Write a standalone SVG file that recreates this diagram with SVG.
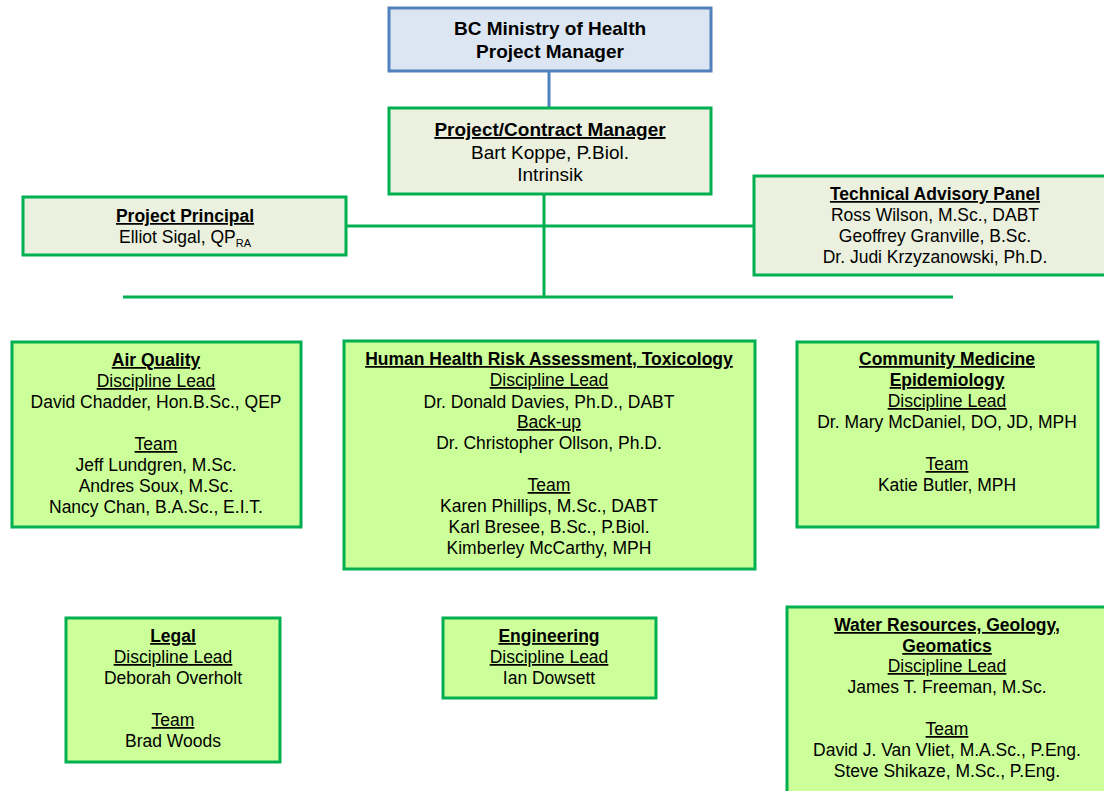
<svg xmlns="http://www.w3.org/2000/svg" width="1104" height="791" viewBox="0 0 1104 791">
<style>
text{font-family:"Liberation Sans",Arial,sans-serif;fill:#000;text-anchor:middle}
.t19{font-size:19px}
.t{font-size:17.5px}
.b{font-weight:bold}
.u{text-decoration:underline}
.blue{fill:#DCE6F2;stroke:#4F81BD;stroke-width:3}
.beige{fill:#EBF1DE;stroke:#00B050;stroke-width:3}
.lg{fill:#CCFF99;stroke:#00B050;stroke-width:3}
.cg{stroke:#00B050;stroke-width:3;fill:none}
.cb{stroke:#4F81BD;stroke-width:3;fill:none}
</style>
<rect width="1104" height="791" fill="#fff"/>
<g id="connectors">
<line class="cb" x1="549" y1="72" x2="549" y2="108"/>
<line class="cg" x1="544" y1="194" x2="544" y2="297"/>
<line class="cg" x1="346" y1="226" x2="753" y2="226"/>
<line class="cg" x1="123" y1="297" x2="953" y2="297"/>
</g>
<g id="bc-ministry">
<rect class="blue" x="389" y="8" width="322" height="63"/>
<text class="t19 b" x="550" y="35">BC Ministry of Health</text>
<text class="t19 b" x="550" y="58">Project Manager</text>
</g>
<g id="project-contract-manager">
<rect class="beige" x="389" y="108" width="322" height="86"/>
<text class="t19 b u" x="550" y="136">Project/Contract Manager</text>
<text class="t19" x="550" y="159">Bart Koppe, P.Biol.</text>
<text class="t19" x="550" y="181">Intrinsik</text>
</g>
<g id="project-principal">
<rect class="beige" x="23" y="197" width="323" height="58"/>
<text class="t b u" x="185" y="222">Project Principal</text>
<text class="t" x="185" y="243">Elliot Sigal, QP<tspan font-size="11px" dy="4">RA</tspan></text>
</g>
<g id="technical-advisory-panel">
<rect class="beige" x="754" y="176" width="362" height="99"/>
<text class="t b u" x="935" y="200">Technical Advisory Panel</text>
<text class="t" x="935" y="221">Ross Wilson, M.Sc., DABT</text>
<text class="t" x="935" y="242">Geoffrey Granville, B.Sc.</text>
<text class="t" x="935" y="263">Dr. Judi Krzyzanowski, Ph.D.</text>
</g>
<g id="air-quality">
<rect class="lg" x="12" y="342" width="289" height="185"/>
<text class="t b u" x="156" y="366">Air Quality</text>
<text class="t u" x="156" y="387">Discipline Lead</text>
<text class="t" x="156" y="408">David Chadder, Hon.B.Sc., QEP</text>
<text class="t u" x="156" y="450">Team</text>
<text class="t" x="156" y="471">Jeff Lundgren, M.Sc.</text>
<text class="t" x="156" y="492">Andres Soux, M.Sc.</text>
<text class="t" x="156" y="513">Nancy Chan, B.A.Sc., E.I.T.</text>
</g>
<g id="hhra">
<rect class="lg" x="344" y="341" width="411" height="228"/>
<text class="t b u" x="549" y="365">Human Health Risk Assessment, Toxicology</text>
<text class="t u" x="549" y="386">Discipline Lead</text>
<text class="t" x="549" y="408">Dr. Donald Davies, Ph.D., DABT</text>
<text class="t u" x="549" y="428">Back-up</text>
<text class="t" x="549" y="449">Dr. Christopher Ollson, Ph.D.</text>
<text class="t u" x="549" y="491">Team</text>
<text class="t" x="549" y="512">Karen Phillips, M.Sc., DABT</text>
<text class="t" x="549" y="533">Karl Bresee, B.Sc., P.Biol.</text>
<text class="t" x="549" y="554">Kimberley McCarthy, MPH</text>
</g>
<g id="community-medicine">
<rect class="lg" x="797" y="342" width="301" height="185"/>
<text class="t b u" x="947" y="365">Community Medicine</text>
<text class="t b u" x="947" y="386">Epidemiology</text>
<text class="t u" x="947" y="407">Discipline Lead</text>
<text class="t" x="947" y="428">Dr. Mary McDaniel, DO, JD, MPH</text>
<text class="t u" x="947" y="470">Team</text>
<text class="t" x="947" y="491">Katie Butler, MPH</text>
</g>
<g id="legal">
<rect class="lg" x="66" y="618" width="214" height="144"/>
<text class="t b u" x="173" y="642">Legal</text>
<text class="t u" x="173" y="663">Discipline Lead</text>
<text class="t" x="173" y="684">Deborah Overholt</text>
<text class="t u" x="173" y="726">Team</text>
<text class="t" x="173" y="747">Brad Woods</text>
</g>
<g id="engineering">
<rect class="lg" x="443" y="618" width="213" height="80"/>
<text class="t b u" x="549" y="642">Engineering</text>
<text class="t u" x="549" y="663">Discipline Lead</text>
<text class="t" x="549" y="684">Ian Dowsett</text>
</g>
<g id="water-resources">
<rect class="lg" x="787" y="607" width="320" height="195"/>
<text class="t b u" x="947" y="631">Water Resources, Geology,</text>
<text class="t b u" x="947" y="652">Geomatics</text>
<text class="t u" x="947" y="672">Discipline Lead</text>
<text class="t" x="947" y="693">James T. Freeman, M.Sc.</text>
<text class="t u" x="947" y="735">Team</text>
<text class="t" x="947" y="756">David J. Van Vliet, M.A.Sc., P.Eng.</text>
<text class="t" x="947" y="777">Steve Shikaze, M.Sc., P.Eng.</text>
</g>
</svg>
